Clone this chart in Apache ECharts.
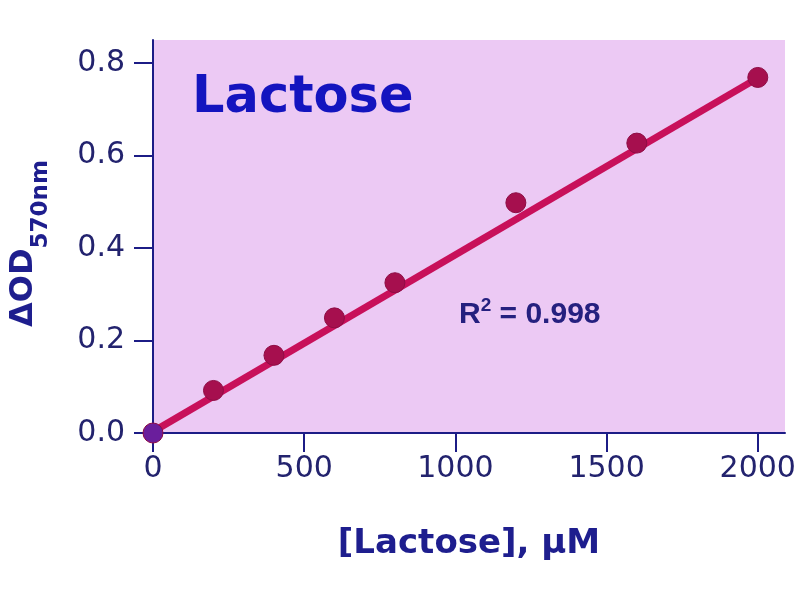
<!DOCTYPE html>
<html>
<head>
<meta charset="utf-8">
<script src="https://cdn.jsdelivr.net/npm/echarts@6/dist/echarts.min.js"></script>
<style>html,body{margin:0;padding:0;background:#fff;}#c{width:800px;height:600px;}</style>
</head>
<body>
<div id="c"></div>
<script>
// Data
const concentrations = [0, 200, 400, 600, 800, 1200, 1600, 2000];
const odValues = [0.000, 0.092, 0.168, 0.249, 0.325, 0.498, 0.627, 0.769];
const fitX = [0, 2000];
const fitY = [0.003, 0.768];
const xTicks = [0, 500, 1000, 1500, 2000];
const yTicks = [0, 0.2, 0.4, 0.6, 0.8];
const chartTitle = 'Lactose';
const r2Label = '0.998';

const navy = '#1c1c86';
const pointData = concentrations.map((c, i) => [c, odValues[i]]);
const fitData = fitX.map((x, i) => [x, fitY[i]]);

const chart = echarts.init(document.getElementById('c'), null, {renderer: 'canvas'});
chart.setOption({
  animation: false,
  backgroundColor: '#ffffff',
  title: [
    {
      text: chartTitle,
      left: 187, top: 68,
      textStyle: {fontFamily: 'DejaVu Sans', fontWeight: 'bold', fontSize: 51, color: '#1414bf'}
    },
    {
      text: '{r|R}{s|2}{r| = ' + r2Label + '}',
      left: 454, top: 291,
      textStyle: {
        rich: {
          r: {fontFamily: 'Liberation Sans', fontWeight: 'bold', fontSize: 30, color: '#25207f', lineHeight: 34, verticalAlign: 'bottom'},
          s: {fontFamily: 'Liberation Sans', fontWeight: 'bold', fontSize: 19, color: '#25207f', lineHeight: 34, verticalAlign: 'top', padding: [0, 0, 12, 0]}
        }
      }
    }
  ],
  grid: {
    left: 153, right: 15, top: 40, bottom: 167,
    outerBoundsMode: 'none',
    show: true, backgroundColor: '#ecc9f4', borderWidth: 0
  },
  xAxis: {
    type: 'value', min: 0, max: 2090, offset: 2,
    name: '[Lactose], μM', nameLocation: 'middle', nameGap: 92,
    nameTextStyle: {fontFamily: 'DejaVu Sans', fontWeight: 'bold', fontSize: 34, color: '#1e1e8e'},
    axisLine: {show: true, lineStyle: {color: navy, width: 2}},
    axisTick: {show: true, length: 19, lineStyle: {color: navy, width: 2}, customValues: xTicks},
    axisLabel: {margin: 19, fontFamily: 'DejaVu Sans', fontSize: 30, color: '#23236e', customValues: xTicks,
      formatter: v => String(v)},
    splitLine: {show: false}
  },
  yAxis: {
    type: 'value', min: 0, max: 0.85,
    name: '{a|ΔOD}{b|570nm}', nameLocation: 'middle', nameRotate: 90, nameGap: 111,
    nameTextStyle: {
      padding: [0, 14, 0, 0],
      rich: {
        a: {fontFamily: 'DejaVu Sans', fontWeight: 'bold', fontSize: 32, color: '#1e1e8e', lineHeight: 34, verticalAlign: 'top'},
        b: {fontFamily: 'DejaVu Sans', fontWeight: 'bold', fontSize: 23, color: '#1e1e8e', lineHeight: 24, verticalAlign: 'top', padding: [22, 0, 0, 0]}
      }
    },
    axisLine: {show: true, lineStyle: {color: navy, width: 2}},
    axisTick: {show: true, length: 19, lineStyle: {color: navy, width: 2}, customValues: yTicks},
    axisLabel: {margin: 28, fontFamily: 'DejaVu Sans', fontSize: 30, color: '#23236e', customValues: yTicks,
      formatter: v => v.toFixed(1)},
    splitLine: {show: false}
  },
  series: [
    {
      type: 'line', data: fitData, showSymbol: false, symbol: 'none',
      lineStyle: {color: '#c8105a', width: 7}, z: 2
    },
    {
      type: 'scatter', data: pointData, symbolSize: 20, z: 3,
      itemStyle: {
        opacity: 1,
        color: p => p.dataIndex === 0 ? '#6a1e9c' : '#a60f4e',
        borderColor: '#8e0c44', borderWidth: 1
      }
    }
  ]
});
</script>
</body>
</html>
